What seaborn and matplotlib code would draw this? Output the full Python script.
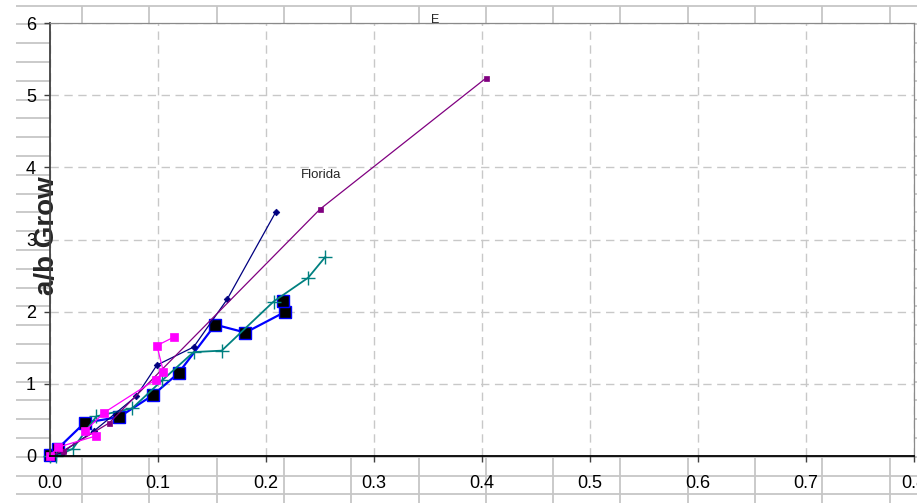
import numpy as np
import pandas as pd
import matplotlib.pyplot as plt
import seaborn as sns

# -----------------------------
# CONFIG
# -----------------------------
sns.set_theme(style="white")
plt.rcParams["font.family"] = ["Liberation Sans", "DejaVu Sans"]

# -----------------------------
# DATA
# -----------------------------
blue_x = [0.0, 0.007, 0.032, 0.064, 0.095, 0.119, 0.153, 0.181, 0.218, 0.216]
blue_y = [0.01, 0.10, 0.46, 0.54, 0.84, 1.15, 1.82, 1.71, 2.00, 2.15]

teal_x = [0.0, 0.006, 0.021, 0.043, 0.076, 0.104, 0.133, 0.159, 0.207, 0.239, 0.255]
teal_y = [0.0, 0.0, 0.10, 0.55, 0.66, 1.05, 1.44, 1.46, 2.14, 2.47, 2.76]

navy_x = [0.0, 0.012, 0.041, 0.080, 0.099, 0.133, 0.164, 0.209]
navy_y = [0.0, 0.06, 0.35, 0.83, 1.26, 1.51, 2.17, 3.38]

purple_x = [0.0, 0.012, 0.055, 0.250, 0.404]
purple_y = [0.0, 0.07, 0.46, 3.42, 5.24]

magenta_x = [0.0, 0.007, 0.043, 0.032, 0.050, 0.098, 0.105, 0.099, 0.115]
magenta_y = [0.0, 0.12, 0.28, 0.34, 0.60, 1.06, 1.17, 1.53, 1.65]

x_ticks = [0.0, 0.1, 0.2, 0.3, 0.4, 0.5, 0.6, 0.7, 0.8]
x_tick_labels = ["0.0", "0.1", "0.2", "0.3", "0.4", "0.5", "0.6", "0.7", "0.8"]
y_ticks = [0, 1, 2, 3, 4, 5, 6]
y_tick_labels = ["0", "1", "2", "3", "4", "5", "6"]

W, H = 917, 503

# -----------------------------
# FIGURE + SHEET GRID BACKGROUND
# -----------------------------
fig = plt.figure(figsize=(W / 100, H / 100), dpi=100, facecolor="white")

bg = fig.add_axes([0, 0, 1, 1], zorder=-1)
bg.set_xlim(0, W)
bg.set_ylim(H, 0)
bg.axis("off")
sheet_rows = np.arange(5.5, H, 18.8)
sheet_cols = np.arange(82, W, 67.3)
bg.hlines(sheet_rows, 16, W, color="#c6c6c6", lw=1.3)
bg.vlines(sheet_cols, 6, H, color="#c6c6c6", lw=1.3)

# -----------------------------
# CHART
# -----------------------------
ax = fig.add_axes([50 / W, (H - 456) / H, 864 / W, 433 / H], zorder=1)
ax.set_facecolor("white")

series = [
    dict(x=blue_x, y=blue_y, color="#0000ff", lw=1.6, marker="s", ms=8,
         mfc="black", mec="#0000ff", mew=1.0),
    dict(x=teal_x, y=teal_y, color="#008080", lw=1.3, marker="+", ms=10,
         mfc="#008080", mec="#008080", mew=1.0),
    dict(x=navy_x, y=navy_y, color="#000080", lw=0.9, marker="D", ms=3.4,
         mfc="#000080", mec="#000080", mew=0.5),
    dict(x=purple_x, y=purple_y, color="#800080", lw=0.9, marker="s", ms=3.6,
         mfc="#800080", mec="#800080", mew=0.5),
    dict(x=magenta_x, y=magenta_y, color="#ff00ff", lw=0.9, marker="s", ms=6,
         mfc="#ff00ff", mec="#ff00ff", mew=0.5),
]

for s in series:
    df = pd.DataFrame({"x": s["x"], "y": s["y"]})
    sns.lineplot(
        data=df, x="x", y="y", ax=ax, sort=False, estimator=None,
        color=s["color"], linewidth=s["lw"], marker=s["marker"],
        markersize=s["ms"], markerfacecolor=s["mfc"],
        markeredgecolor=s["mec"], markeredgewidth=s["mew"], clip_on=False,
    )

ax.set_xlim(0, 0.8)
ax.set_ylim(0, 6)
ax.set_xticks(x_ticks)
ax.set_xticklabels(x_tick_labels)
ax.set_yticks(y_ticks)
ax.set_yticklabels(y_tick_labels)
ax.set_xlabel("")

ax.grid(True, linestyle=(0, (6, 4)), color="#c8c8c8", linewidth=1.0)
ax.set_axisbelow(True)

ax.spines["left"].set_color("#404040")
ax.spines["left"].set_linewidth(1.3)
ax.spines["bottom"].set_color("black")
ax.spines["bottom"].set_linewidth(1.3)
for side in ["top", "right"]:
    ax.spines[side].set_color("#8a8a8a")
    ax.spines[side].set_linewidth(0.9)

ax.tick_params(axis="x", bottom=True, length=4, width=1, color="#404040",
               pad=10, labelsize=13, labelcolor="black")
ax.tick_params(axis="y", left=True, length=4, width=1, color="#404040",
               pad=6, labelsize=13, labelcolor="black")

ax.set_ylabel("a/b Grow", fontsize=20, fontweight="bold", va="center")
ax.yaxis.set_label_coords(-0.003, 0.51)

ax.text(0.4456, 1.0, "E", transform=ax.transAxes, ha="center", va="baseline",
        fontsize=9)
ax.text(0.251, 3.9, "Florida", ha="center", va="center", fontsize=9.5)

plt.savefig("out.png", dpi=100, facecolor="white")
